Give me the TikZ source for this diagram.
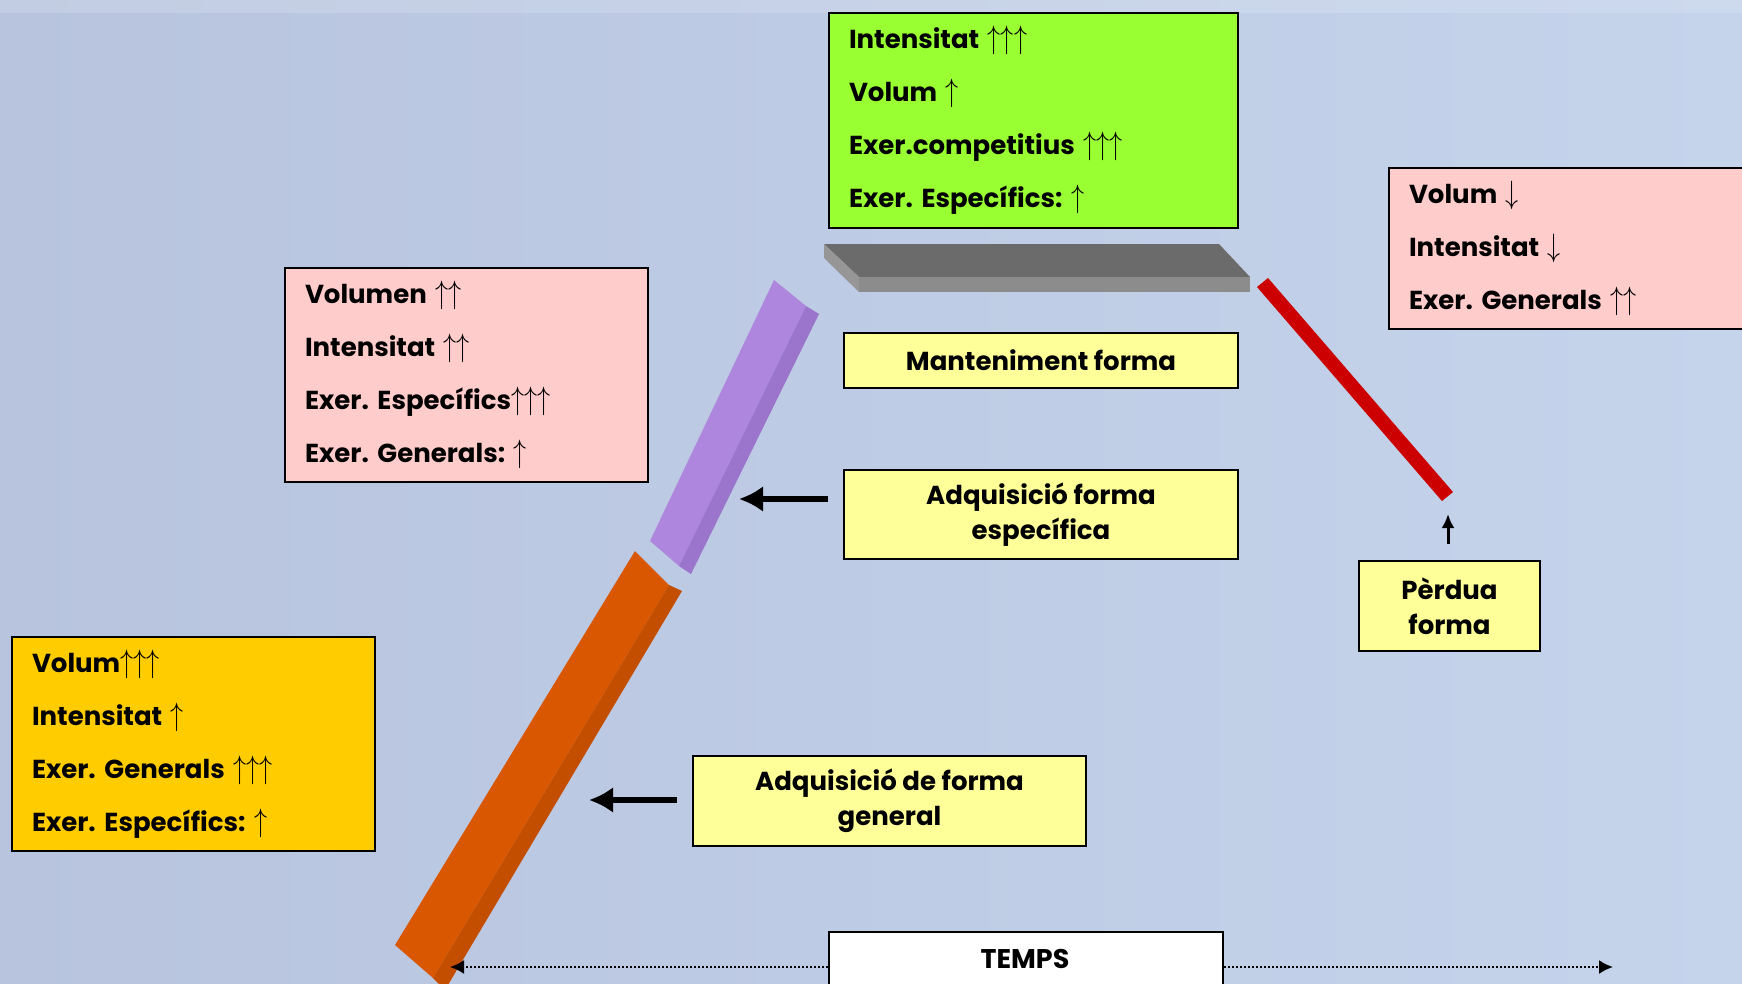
\documentclass[tikz,border=0pt]{standalone}
\usepackage{fontspec}
\usepackage{graphicx}
\setmainfont{Poppins}
\usetikzlibrary{arrows.meta}
\newcommand{\ua}{\scalebox{1.05}[1.3]{\ensuremath{\uparrow}}}
\newcommand{\da}{\scalebox{1.05}[1.3]{\ensuremath{\downarrow}}}
\definecolor{bgL}{RGB}{184,196,222}
\definecolor{bgR}{RGB}{197,211,235}
\definecolor{cgreen}{RGB}{153,255,51}
\definecolor{cpink}{RGB}{255,204,204}
\definecolor{cgold}{RGB}{255,204,0}
\definecolor{cyel}{RGB}{255,255,153}
\definecolor{orA}{RGB}{217,87,0}
\definecolor{orB}{RGB}{196,78,0}
\definecolor{puA}{RGB}{174,134,221}
\definecolor{puB}{RGB}{155,117,204}
\definecolor{grA}{RGB}{107,107,107}
\definecolor{grB}{RGB}{140,140,140}
\definecolor{grC}{RGB}{150,150,150}
\definecolor{rdA}{RGB}{204,0,0}
\frenchspacing
\tikzset{
  listbox/.style={draw=black, line width=2pt, anchor=north west, inner xsep=20pt, inner ysep=0pt,
    align=left, font=\bfseries\fontsize{26}{53}\selectfont},
  labbox/.style={draw=black, line width=2pt, anchor=north west, fill=cyel, inner sep=0pt,
    align=center, font=\bfseries\fontsize{26}{35}\selectfont},
  bigarrow/.style={line width=6pt, -{Latex[length=24pt,width=26pt]}},
  smallarrow/.style={line width=3pt, -{Latex[length=14pt,width=13pt]}},
  timeline/.style={line width=2pt, dotted, -{Latex[length=14pt,width=14pt]}}
}
\begin{document}
\begin{tikzpicture}[x=1pt,y=-1pt]
\useasboundingbox (0,0) rectangle (1742,983);
\clip (0,0) rectangle (1742,983);
\shade[left color=bgL, right color=bgR] (0,0) rectangle (1742,983);
\fill[white, opacity=0.15] (0,0) rectangle (1742,13);

% bars
\fill[orA] (635,551) -- (669,585) -- (433,978) -- (395,945) -- cycle;
\fill[orB] (669,585) -- (682,591) -- (445,990) -- (433,978) -- cycle;
\fill[puA] (774,280) -- (806,306) -- (679,566) -- (650,541) -- cycle;
\fill[puB] (806,306) -- (819,314) -- (691,574) -- (679,566) -- cycle;
\fill[grA] (824,244) -- (1219,244) -- (1250,277) -- (859,277) -- cycle;
\fill[grB] (859,277) -- (1250,277) -- (1250,292) -- (859,292) -- cycle;
\fill[grC] (824,244) -- (859,277) -- (859,292) -- (824,258) -- cycle;
\fill[rdA] (1257,287) -- (1268,278) -- (1453,492) -- (1442,501) -- cycle;

% list boxes
\node[listbox, fill=cgreen, text width=369pt, minimum height=215pt] (green) at (828,12)
  {\rule{0pt}{4pt}Intensitat \ua\ua\ua\\Volum \ua\\Exer.competitius \ua\ua\ua\\Exer. Específics: \ua};
\node[listbox, fill=cpink, text width=332pt, minimum height=161pt, yshift=-2pt] (pinkR) at (1388,165)
  {Volum \da\\Intensitat \da\\Exer. Generals \ua\ua};
\node[listbox, fill=cpink, text width=323pt, minimum height=214pt, yshift=-2pt] (pinkL) at (284,265)
  {Volumen \ua\ua\\Intensitat \ua\ua\\Exer. Específics\ua\ua\ua\\Exer. Generals: \ua};
\node[listbox, fill=cgold, text width=323pt, minimum height=214pt, yshift=-2pt] (gold) at (11,634)
  {Volum\ua\ua\ua\\Intensitat \ua\\Exer. Generals \ua\ua\ua\\Exer. Específics: \ua};

% label boxes
\node[labbox, minimum width=394pt, minimum height=55pt] (mant) at (843,332) {Manteniment forma};
\node[labbox, minimum width=394pt, minimum height=89pt] (spec) at (843,469) {Adquisició forma\\específica};
\node[labbox, minimum width=181pt, minimum height=90pt] (perd) at (1358,560) {Pèrdua\\forma};
\node[labbox, minimum width=393pt, minimum height=90pt] (gen) at (692,755) {Adquisició de forma\\general};

% time axis
\coordinate (tl) at (450,967);
\coordinate (tr) at (1613,967);
\node[draw=black, line width=2pt, fill=white, anchor=north west, minimum width=394pt, minimum height=70pt,
  inner sep=0pt] (temps) at (828,931) {};
\node[font=\bfseries\fontsize{27}{27}\selectfont] (tempst) at (1025,959) {TEMPS};
\draw[timeline] (tl -| temps.west) -- (tl);
\draw[timeline] (tr -| temps.east) -- (tr);

% arrows
\coordinate (specA) at (739,499);
\coordinate (genA) at (589,800);
\coordinate (perdA) at (1448,514);
\draw[bigarrow] (specA -| spec.west) ++(-15,0) -- (specA);
\draw[bigarrow] (genA -| gen.west) ++(-15,0) -- (genA);
\draw[smallarrow] (perdA |- perd.north) ++(0,-16) -- (perdA);
\end{tikzpicture}
\end{document}
